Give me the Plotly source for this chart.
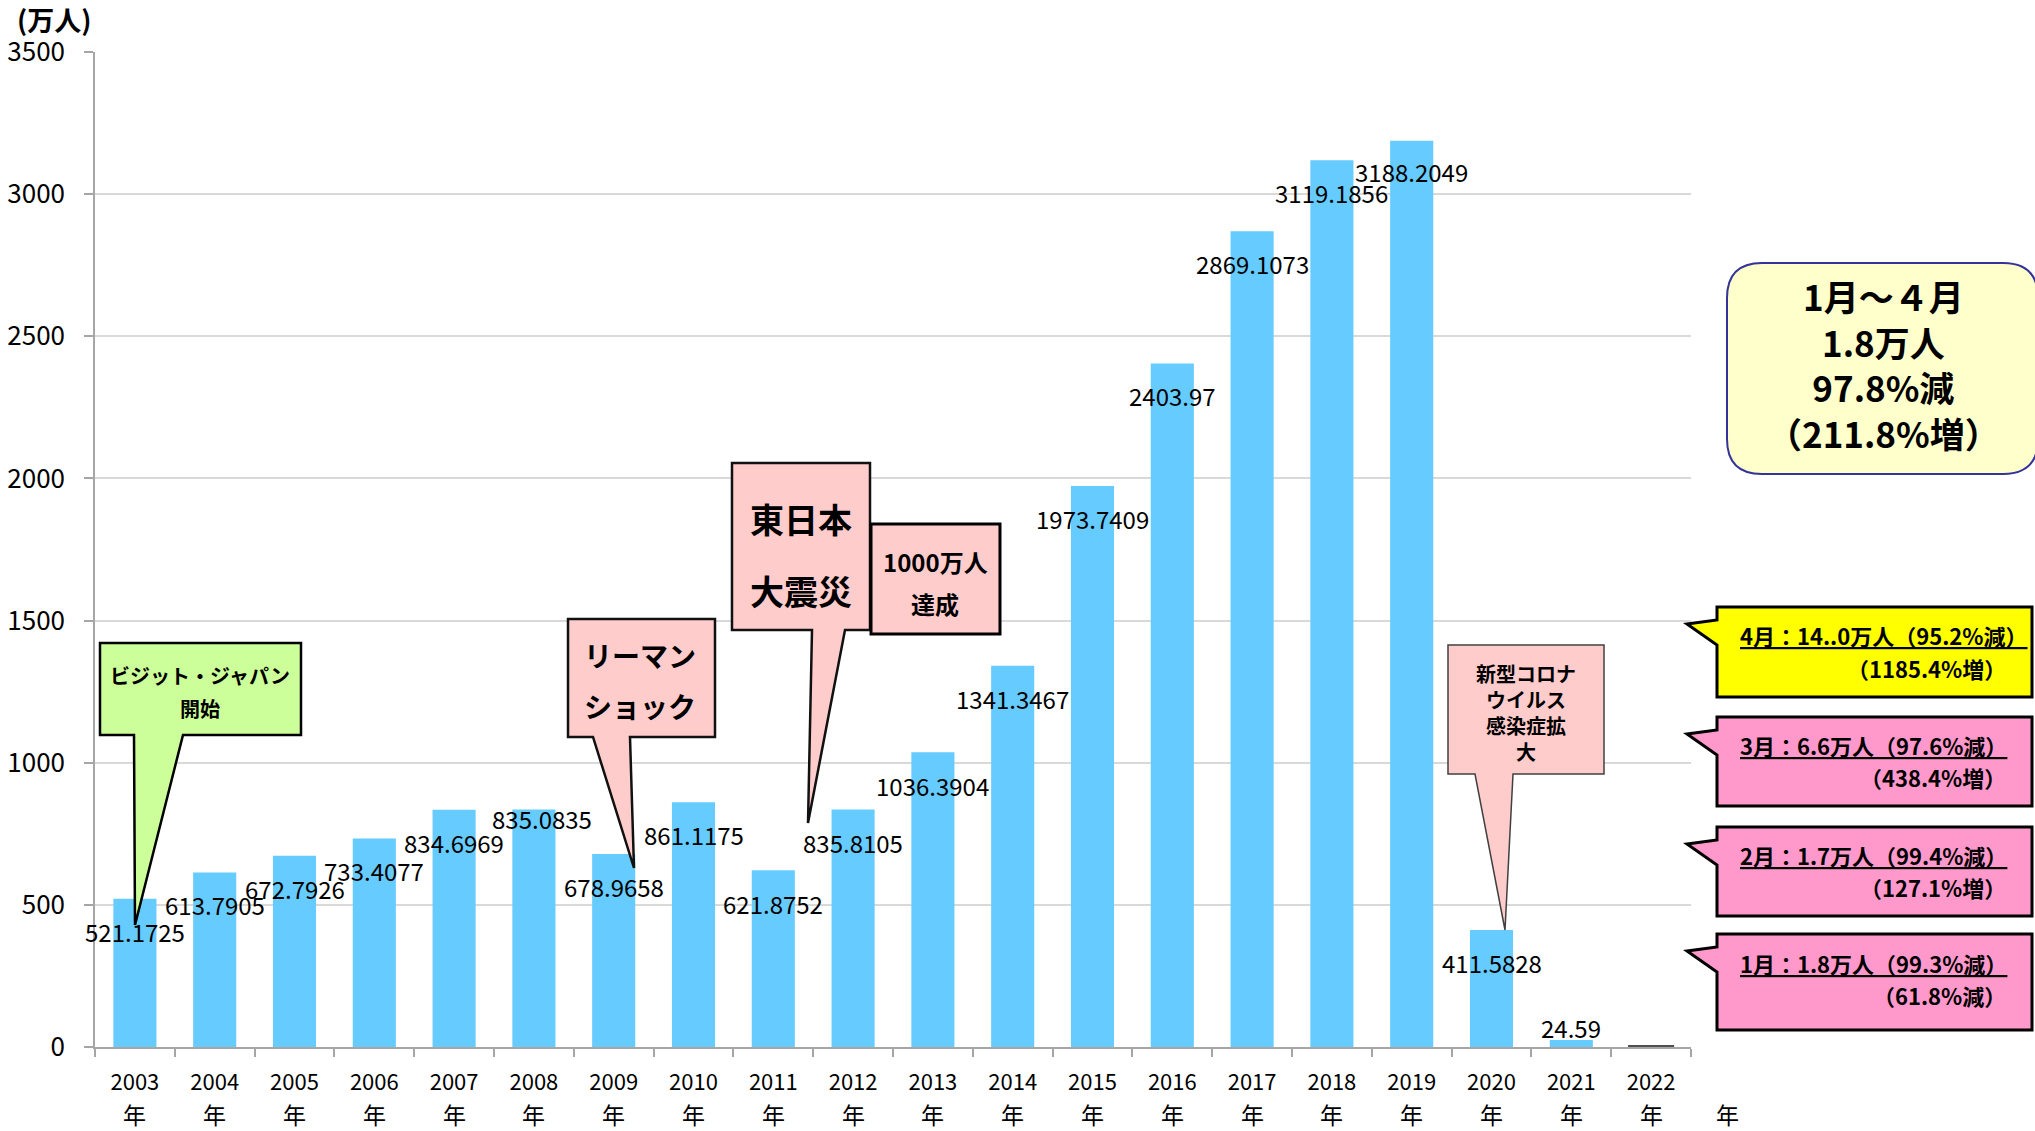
import plotly.graph_objects as go

# ---- data -------------------------------------------------------------
years = ["2003", "2004", "2005", "2006", "2007", "2008", "2009", "2010", "2011", "2012",
         "2013", "2014", "2015", "2016", "2017", "2018", "2019", "2020", "2021", "2022"]
visitors = [521.1725, 613.7905, 672.7926, 733.4077, 834.6969, 835.0835, 678.9658, 861.1175,
            621.8752, 835.8105, 1036.3904, 1341.3467, 1973.7409, 2403.97, 2869.1073,
            3119.1856, 3188.2049, 411.5828, 24.59, 1.8]
show_label = [True] * 19 + [False]
y_ticks = [0, 500, 1000, 1500, 2000, 2500, 3000, 3500]
unit_label = "(万人)"
year_suffix = "年"

monthly_notes = [
    ("4月：14..0万人（95.2%減）", "（1185.4%増）"),
    ("3月：6.6万人（97.6%減）", "（438.4%増）"),
    ("2月：1.7万人（99.4%減）", "（127.1%増）"),
    ("1月：1.8万人（99.3%減）", "（61.8%減）"),
]
summary_lines = ["1月～４月", "1.8万人", "97.8%減", "（211.8%増）"]

# ---- layout geometry (pixels) ------------------------------------------
W, H = 2035, 1131
L, R, T, B = 95, 1691, 52, 1047
FONT = "Noto Sans CJK JP"

# label offsets from the bar top, in pixels
label_dy = [-33, -32, -33, -32, -33, -9, -33, -32, -33, -33,
            -33, -32.5, -32.5, -31.5, -32, -32, -31, -33, 12.5, 0]
label_dx = [0, 0, 0, 0, 0, 8, 0, 0, 0, 0, 0, 0, 0, 0, 0, 0, 0, 0, 0, 0]


def px(x):
    return (x - L) / (R - L)


def py(y):
    return (B - y) / (B - T)


def poly(points):
    return "M " + " L ".join(f"{px(x):.5f},{py(y):.5f}" for x, y in points) + " Z"


bar_colors = ["#66CCFF"] * 19 + ["#505050"]
bar_line_w = [0] * 19 + [3]

fig = go.Figure()
fig.add_trace(go.Bar(
    x=years, y=visitors,
    marker=dict(color=bar_colors, line=dict(color="#505050", width=bar_line_w)),
    width=0.54, hoverinfo="x+y", showlegend=False,
))

annotations = []
# value labels (category axis positions given by index)
for i, v in enumerate(visitors):
    if not show_label[i]:
        continue
    annotations.append(dict(
        x=i, y=v, xref="x", yref="y", text=str(v), showarrow=False,
        xanchor="center", yanchor="middle", yshift=label_dy[i], xshift=label_dx[i],
        font=dict(family=FONT, size=24, color="#000000"),
    ))

# second line of category labels
for i in range(len(years)):
    annotations.append(dict(
        x=i, y=py(1114), xref="x", yref="paper", text=year_suffix, showarrow=False,
        xanchor="center", yanchor="middle", font=dict(family=FONT, size=23, color="#000000"),
    ))
annotations.append(dict(
    x=px(1727), y=py(1114), xref="paper", yref="paper", text=year_suffix, showarrow=False,
    xanchor="center", yanchor="middle", font=dict(family=FONT, size=23, color="#000000"),
))

# unit label
annotations.append(dict(
    x=px(54), y=py(19), xref="paper", yref="paper", text=unit_label, showarrow=False,
    xanchor="center", yanchor="middle",
    font=dict(family=FONT, size=27, color="#000000", weight="bold"),
))


def text_at(x, y, s, size, anchor="center", weight="bold"):
    annotations.append(dict(
        x=px(x), y=py(y), xref="paper", yref="paper", text=s, showarrow=False,
        xanchor=anchor, yanchor="middle",
        font=dict(family=FONT, size=size, color="#000000", weight=weight),
    ))


shapes = []


def add_path(path, fill, line_color, line_w):
    shapes.append(dict(type="path", path=path, xref="paper", yref="paper",
                       fillcolor=fill, line=dict(color=line_color, width=line_w),
                       layer="above"))


# Visit Japan campaign
add_path(poly([(100, 643), (301, 643), (301, 735), (183, 735), (135, 925),
               (134, 735), (100, 735)]), "#CCFF99", "#000000", 2.5)
text_at(200, 676, "ビジット・ジャパン", 20)
text_at(200, 708, "開始", 20)

# Lehman shock
add_path(poly([(568, 619), (715, 619), (715, 737), (630, 737), (634, 868),
               (593, 737), (568, 737)]), "#FFCCCC", "#111111", 2.5)
text_at(640, 655, "リーマン", 28)
text_at(640, 706, "ショック", 28)

# Great East Japan Earthquake
add_path(poly([(732, 463), (870, 463), (870, 630), (845, 630), (808, 823),
               (812, 630), (732, 630)]), "#FFCCCC", "#111111", 2.5)
text_at(801, 518, "東日本", 34)
text_at(801, 590, "大震災", 34)

# 10 million milestone
add_path(poly([(871, 524), (1000, 524), (1000, 634), (871, 634)]), "#FFCCCC", "#000000", 3)
text_at(935, 561, "1000万人", 24)
text_at(935, 603, "達成", 24)

# COVID-19
add_path(poly([(1448, 645), (1604, 645), (1604, 774), (1513, 774), (1505, 930),
               (1475, 774), (1448, 774)]), "#FFCCCC", "#404040", 1.5)
text_at(1526, 712, "新型コロナ<br>ウイルス<br>感染症拡<br>大", 20)

# summary box (rounded)
x0, x1, y0, y1, r = 1727, 2038, 263, 474, 35
rounded = (
    f"M {px(x0 + r):.5f},{py(y0):.5f} L {px(x1 - r):.5f},{py(y0):.5f} "
    f"Q {px(x1):.5f},{py(y0):.5f} {px(x1):.5f},{py(y0 + r):.5f} "
    f"L {px(x1):.5f},{py(y1 - r):.5f} "
    f"Q {px(x1):.5f},{py(y1):.5f} {px(x1 - r):.5f},{py(y1):.5f} "
    f"L {px(x0 + r):.5f},{py(y1):.5f} "
    f"Q {px(x0):.5f},{py(y1):.5f} {px(x0):.5f},{py(y1 - r):.5f} "
    f"L {px(x0):.5f},{py(y0 + r):.5f} "
    f"Q {px(x0):.5f},{py(y0):.5f} {px(x0 + r):.5f},{py(y0):.5f} Z"
)
add_path(rounded, "#FFFFCC", "#333399", 2)
text_at(1883, 364, "<br>".join(summary_lines), 35)

# monthly callouts
boxes = [(607, 697, "#FFFF00"), (717, 806, "#FF99CC"), (827, 916, "#FF99CC"), (934, 1030, "#FF99CC")]
line_y = [(635, 668), (745, 777), (855, 887), (963, 995)]
for (top, bot, col), (l1, l2), (ya, yb) in zip(boxes, monthly_notes, line_y):
    add_path(poly([(1717, top), (2032, top), (2032, bot), (1717, bot), (1717, top + 38),
                   (1687, top + 17), (1717, top + 13)]), col, "#000000", 3)
    text_at(1738, ya, f"<u>{l1}</u>", 22, anchor="left")
    text_at(2008, yb, l2, 22, anchor="right")

fig.update_layout(
    width=W, height=H,
    margin=dict(l=L, r=W - R, t=T, b=H - B, pad=0, autoexpand=False),
    paper_bgcolor="#FFFFFF", plot_bgcolor="#FFFFFF",
    bargap=0.46,
    font=dict(family=FONT, color="#000000"),
    annotations=annotations,
    shapes=shapes,
    xaxis=dict(
        type="category", categoryorder="array", categoryarray=years,
        range=[-0.5, 19.5], tickvals=years, ticktext=years,
        showline=True, linecolor="#A6A6A6", linewidth=1.5,
        ticks="outside", tickson="boundaries", ticklen=8, tickcolor="#A6A6A6", tickwidth=1.5,
        tickfont=dict(family=FONT, size=22, color="#000000"),
        ticklabelstandoff=15, automargin=False,
        showgrid=False, zeroline=False, fixedrange=True,
    ),
    yaxis=dict(
        range=[0, 3500], tickvals=y_ticks,
        showline=True, linecolor="#A6A6A6", linewidth=1.5,
        ticks="outside", ticklen=9, tickcolor="#A6A6A6", tickwidth=1.5,
        gridcolor="#D9D9D9", gridwidth=1.5,
        tickfont=dict(family=FONT, size=26, color="#000000"),
        ticklabelstandoff=14, automargin=False,
        zeroline=False, fixedrange=True,
    ),
)

fig.write_html("out.html")
